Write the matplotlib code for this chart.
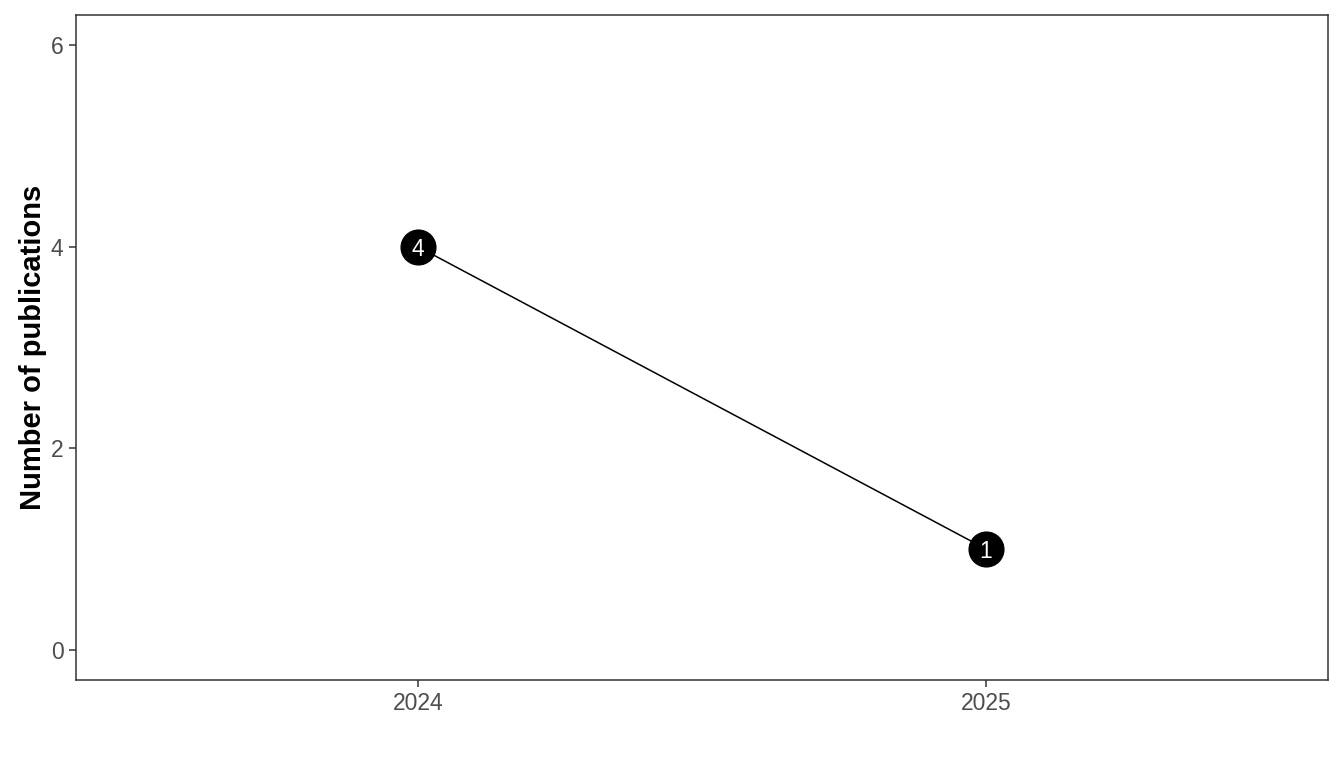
import matplotlib
matplotlib.use("Agg")
import matplotlib.pyplot as plt

years = ["2024", "2025"]
counts = [4, 1]
y_ticks = [0, 2, 4, 6]

plt.rcParams['font.family'] = ['Liberation Sans', 'DejaVu Sans']

fig = plt.figure(figsize=(13.44, 7.68), dpi=100)
ax = fig.add_axes([76/1344, 1 - 680/768, (1328-76)/1344, (680-15)/768])

xpos = list(range(1, len(years) + 1))
ax.plot(xpos, counts, color='black', linewidth=1.1, zorder=2)
ax.plot(xpos, counts, 'o', color='black', markersize=25, zorder=3)
for x, c in zip(xpos, counts):
    ax.text(x, c, str(c), color='white', ha='center', va='center_baseline', fontsize=16.5, zorder=4)

ax.set_xlim(1 - 0.602, len(years) + 0.602)
ax.set_ylim(-0.3, 6.3)
ax.set_xticks(xpos)
ax.set_xticklabels(years)
ax.set_yticks(y_ticks)
ax.tick_params(colors='#333333', labelcolor='#4D4D4D', labelsize=16.5, length=5, width=1.1, pad=4)
for s in ax.spines.values():
    s.set_color('#333333')
    s.set_linewidth(1.1)
ax.set_ylabel("Number of publications", fontsize=21, fontweight='bold', color='black', labelpad=3)

fig.savefig("out.png", dpi=100)
